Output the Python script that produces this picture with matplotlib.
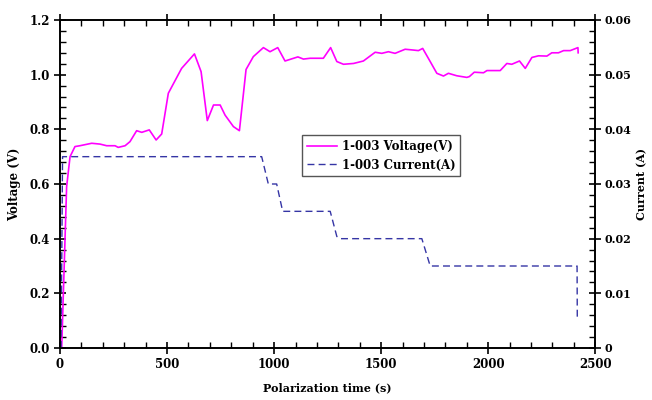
import numpy as np
import matplotlib
matplotlib.use('Agg')
import matplotlib.pyplot as plt
from matplotlib.ticker import MultipleLocator, FuncFormatter

plt.rcParams['font.family'] = ['DejaVu Serif']
plt.rcParams['font.weight'] = 'bold'

# Voltage trace (time s, V)
volt_t = [8, 31, 47, 70, 93, 148, 187, 218, 257, 272, 304, 327, 358, 382, 417, 449, 475,
          506, 568, 628, 659, 688, 717, 748, 771, 810, 838, 869, 903, 950, 981, 1017,
          1051, 1075, 1111, 1137, 1168, 1230, 1264, 1293, 1324, 1371, 1417, 1472, 1503,
          1534, 1565, 1612, 1651, 1674, 1694, 1729, 1760, 1791, 1814, 1853, 1900, 1912,
          1935, 1978, 1994, 2056, 2087, 2110, 2146, 2173, 2204, 2235, 2274, 2297, 2328,
          2352, 2383, 2419, 2420]
volt_v = [0.0, 0.59, 0.70, 0.737, 0.74, 0.749, 0.746, 0.74, 0.74, 0.734, 0.74, 0.755,
          0.795, 0.789, 0.798, 0.761, 0.783, 0.932, 1.023, 1.076, 1.011, 0.832, 0.889,
          0.889, 0.852, 0.81, 0.795, 1.019, 1.066, 1.099, 1.084, 1.099, 1.05, 1.056,
          1.065, 1.057, 1.06, 1.06, 1.099, 1.048, 1.038, 1.041, 1.05, 1.082, 1.078,
          1.084, 1.078, 1.093, 1.09, 1.088, 1.096, 1.048, 1.005, 0.995, 1.005, 0.996,
          0.99, 0.993, 1.009, 1.007, 1.015, 1.015, 1.041, 1.038, 1.05, 1.023, 1.063,
          1.069, 1.068, 1.08, 1.08, 1.088, 1.088, 1.099, 1.08]

# Current trace (time s, A)
curr_t = [5, 12, 942, 973, 981, 1012, 1040, 1262, 1293, 1308, 1690, 1729, 2415, 2416]
curr_i = [0.0, 0.035, 0.035, 0.030, 0.030, 0.030, 0.025, 0.025, 0.0204, 0.020, 0.020,
          0.015, 0.015, 0.0054]

fig = plt.figure(figsize=(6.52, 4.0), dpi=100)
ax = fig.add_axes([0.092, 0.13, 0.821, 0.82])
ax2 = ax.twinx()

l1, = ax.plot(volt_t, volt_v, color='#ff00ff', lw=1.2, label='1-003 Voltage(V)')
l2, = ax2.plot(curr_t, curr_i, color='#3535a5', lw=1.0, ls=(0, (5, 3)),
               label='1-003 Current(A)')

ax.set_xlim(0, 2500)
ax.set_ylim(0, 1.2)
ax2.set_ylim(0, 0.06)

ax.xaxis.set_major_locator(MultipleLocator(500))
ax.xaxis.set_minor_locator(MultipleLocator(100))
ax.yaxis.set_major_locator(MultipleLocator(0.2))
ax.yaxis.set_minor_locator(MultipleLocator(0.04))
ax.yaxis.set_major_formatter(FuncFormatter(lambda v, p: f'{v:.1f}'))
ax2.yaxis.set_major_locator(MultipleLocator(0.01))
ax2.yaxis.set_minor_locator(MultipleLocator(0.002))
ax2.yaxis.set_major_formatter(FuncFormatter(lambda v, p: '0' if abs(v) < 1e-9 else f'{v:.2f}'))

ax.tick_params(which='major', direction='inout', length=8, width=1.2, labelsize=8.5,
               top=True, right=False, pad=3)
ax.tick_params(which='minor', direction='in', length=4, width=1.0, top=True, right=False)
ax2.tick_params(which='major', direction='inout', length=8, width=1.2, labelsize=8,
                pad=3)
ax2.tick_params(which='minor', direction='in', length=4, width=1.0)
for a in (ax, ax2):
    for s in a.spines.values():
        s.set_linewidth(1.2)
    for lab in a.get_xticklabels() + a.get_yticklabels():
        lab.set_fontweight('bold')

ax.set_xlabel('Polarization time (s)', fontsize=8, fontweight='bold', labelpad=8)
ax.set_ylabel('Voltage (V)', fontsize=8.5, fontweight='bold', labelpad=6)
ax2.set_ylabel('Current (A)', fontsize=8, fontweight='bold', rotation=90, labelpad=3)

leg = ax2.legend(handles=[l1, l2], loc='upper left', bbox_to_anchor=(0.463, 0.6625),
                 bbox_transform=fig.transFigure, borderaxespad=0, fancybox=False,
                 framealpha=1, edgecolor='#555555', handlelength=2.6, handletextpad=0.4,
                 borderpad=0.4, labelspacing=0.5, prop={'size': 8.5, 'weight': 'bold'})
leg.get_frame().set_linewidth(1.0)

fig.savefig('out.png', dpi=100)
